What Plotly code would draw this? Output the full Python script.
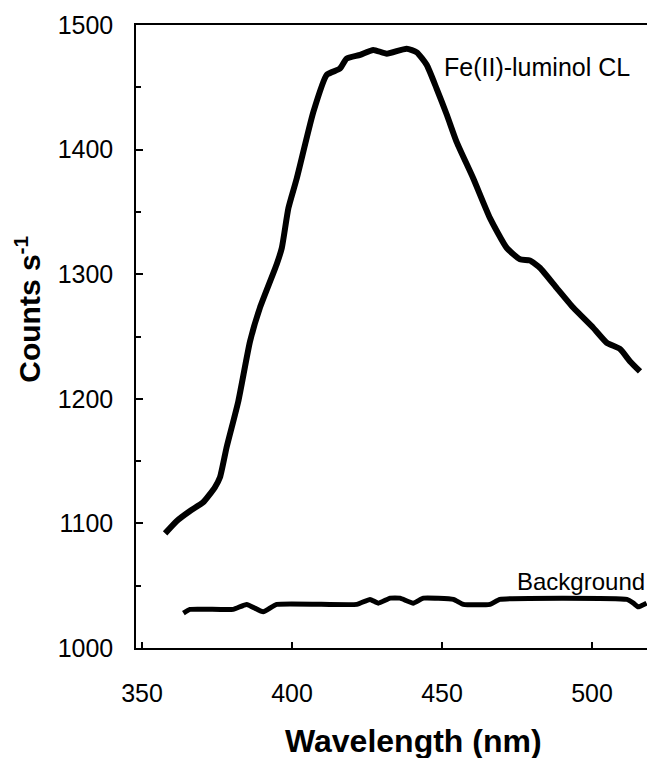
import plotly.graph_objects as go

# Fe(II)-luminol chemiluminescence spectrum
cl_wavelength = [357.7, 361.6, 366.0, 370.4, 374.3, 376.0, 378.2, 382.1, 386.0, 389.3,
                 394.9, 396.6, 398.8, 401.6, 407.1, 411.6, 416.0, 418.2, 422.7, 427.1,
                 431.6, 438.2, 441.6, 444.9, 448.2, 451.6, 454.9, 460.4, 466.0, 471.6,
                 476.0, 479.3, 482.7, 488.2, 493.8, 500.4, 504.9, 509.3, 512.7, 516.0]
cl_counts = [1092, 1102, 1110, 1117, 1129, 1137, 1161, 1198, 1246, 1273,
             1308, 1321, 1353, 1377, 1430, 1460, 1465, 1473, 1476, 1480,
             1477, 1481, 1478, 1468, 1449, 1428, 1406, 1377, 1345, 1321,
             1312, 1311, 1305, 1289, 1273, 1257, 1245, 1240, 1230, 1222]

# Background
bg_wavelength = [363.8, 366.0, 380.4, 384.9, 390.4, 394.9, 421.6, 426.0, 428.8, 432.7,
                 436.0, 440.4, 443.8, 453.8, 457.1, 466.0, 469.3, 511.6, 513.8, 515.4, 518.2]
bg_counts = [1028, 1031, 1031, 1035, 1029, 1035, 1035, 1039, 1036, 1040,
             1040, 1036, 1040, 1039, 1035, 1035, 1039, 1039, 1036, 1033, 1036]

x_ticks = [350, 400, 450, 500]
y_ticks = [1000, 1100, 1200, 1300, 1400, 1500]

FONT = "Liberation Sans, Arial, sans-serif"

fig = go.Figure()
fig.add_trace(go.Scatter(x=cl_wavelength, y=cl_counts, mode="lines",
                         line=dict(color="black", width=6, shape="spline", smoothing=0.5),
                         showlegend=False, hoverinfo="skip"))
fig.add_trace(go.Scatter(x=bg_wavelength, y=bg_counts, mode="lines",
                         line=dict(color="black", width=5, shape="spline", smoothing=0.4),
                         showlegend=False, hoverinfo="skip"))

# page body has an 8px margin, so the figure is sized/offset to compensate
fig.update_layout(
    width=647, height=750,
    margin=dict(l=128, r=3, t=15, b=110),
    paper_bgcolor="white", plot_bgcolor="white",
    font=dict(family=FONT, color="black", size=25),
    xaxis=dict(range=[348, 520], tickvals=x_ticks, ticks="inside", ticklen=6,
               tickwidth=1.5, tickcolor="black", showline=True, linecolor="black",
               linewidth=1.5, mirror=True, showgrid=False, zeroline=False,
               tickfont=dict(size=25), ticklabelstandoff=22),
    yaxis=dict(range=[1000, 1500], tickvals=y_ticks, ticks="inside", ticklen=7,
               tickwidth=1.5, tickcolor="black", showline=True, linecolor="black",
               linewidth=1.5, showgrid=False, zeroline=False,
               tickfont=dict(size=25), ticklabelstandoff=16,
               minor=dict(dtick=50, ticks="inside", ticklen=5, tickwidth=1.5,
                          tickcolor="black")),
    annotations=[
        dict(text="Fe(II)-luminol CL", x=450, y=1466, xref="x", yref="y",
             xanchor="left", yanchor="middle", showarrow=False,
             font=dict(size=25, family=FONT)),
        dict(text="Background", x=474.3, y=1053, xref="x", yref="y",
             xanchor="left", yanchor="middle", showarrow=False,
             font=dict(size=24, family=FONT)),
        dict(text="<b>Wavelength (nm)</b>", x=0.537, y=-0.150, xref="paper", yref="paper",
             xanchor="center", yanchor="middle", showarrow=False,
             font=dict(size=32, family=FONT)),
        dict(text="<b>Counts s<sup>-1</sup></b>", x=-0.21, y=0.544, xref="paper", yref="paper",
             xanchor="center", yanchor="middle", showarrow=False, textangle=-90,
             font=dict(size=30, family=FONT)),
    ],
)

fig.write_html("out.html")
